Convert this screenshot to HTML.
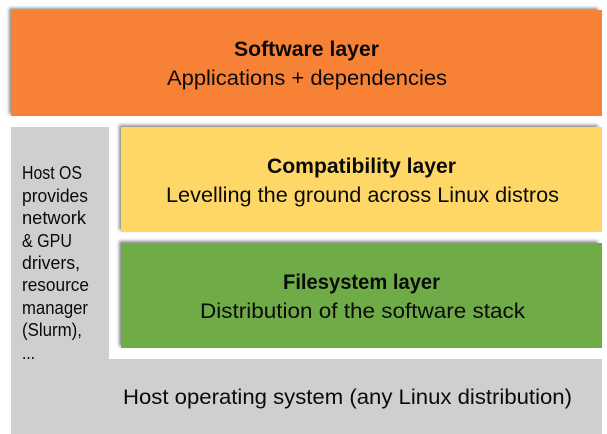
<!DOCTYPE html>
<html>
<head>
<meta charset="utf-8">
<style>
html,body{margin:0;padding:0;background:#fff}
body{position:relative;width:607px;height:434px;overflow:hidden}
.b{position:absolute}
.s{box-shadow:-2px -2px 3px rgba(0,0,0,.45)}
svg{position:absolute;left:0;top:0}
text{font-family:"Liberation Sans",sans-serif;fill:#0a0a0a}
.t{font-size:21.5px}
.h{font-size:21px;font-weight:bold}
.m{font-size:18px}
</style>
</head>
<body>
<div class="b s" style="left:11px;top:10px;width:589px;height:106px;background:#f78135"></div>
<div class="b" style="left:598px;top:10px;width:4px;height:106px;background:#f78135"></div>
<div class="b" style="left:11px;top:127px;width:98px;height:307px;background:#d0cece"></div>
<div class="b" style="left:11px;top:359px;width:591px;height:75px;background:#d0cece"></div>
<div class="b s" style="left:121px;top:127px;width:479px;height:105px;background:#ffd766"></div>
<div class="b" style="left:598px;top:127px;width:4px;height:105px;background:#ffd766"></div>
<div class="b s" style="left:121px;top:243px;width:479px;height:105px;background:#6fac47"></div>
<div class="b" style="left:598px;top:243px;width:4px;height:105px;background:#6fac47"></div>
<svg width="607" height="434" viewBox="0 0 607 434">
<text class="h" x="234" y="56" textLength="145" lengthAdjust="spacingAndGlyphs">Software layer</text>
<text class="t" x="167" y="85" textLength="280" lengthAdjust="spacingAndGlyphs">Applications + dependencies</text>
<text class="h" x="267" y="173" textLength="189" lengthAdjust="spacingAndGlyphs">Compatibility layer</text>
<text class="t" x="166" y="202" textLength="393" lengthAdjust="spacingAndGlyphs">Levelling the ground across Linux distros</text>
<text class="h" x="283" y="289" textLength="157" lengthAdjust="spacingAndGlyphs">Filesystem layer</text>
<text class="t" x="200" y="318" textLength="325" lengthAdjust="spacingAndGlyphs">Distribution of the software stack</text>
<text class="t" x="123" y="404" textLength="449" lengthAdjust="spacingAndGlyphs">Host operating system (any Linux distribution)</text>
<text class="m" x="22" y="179" textLength="60" lengthAdjust="spacingAndGlyphs">Host OS</text>
<text class="m" x="22" y="202" textLength="66" lengthAdjust="spacingAndGlyphs">provides</text>
<text class="m" x="22" y="224" textLength="64" lengthAdjust="spacingAndGlyphs">network</text>
<text class="m" x="22" y="247" textLength="50" lengthAdjust="spacingAndGlyphs">&amp; GPU</text>
<text class="m" x="22" y="269" textLength="58" lengthAdjust="spacingAndGlyphs">drivers,</text>
<text class="m" x="22" y="291" textLength="67" lengthAdjust="spacingAndGlyphs">resource</text>
<text class="m" x="22" y="314" textLength="66" lengthAdjust="spacingAndGlyphs">manager</text>
<text class="m" x="22" y="336" textLength="60" lengthAdjust="spacingAndGlyphs">(Slurm),</text>
<text class="m" x="22" y="359" textLength="13" lengthAdjust="spacingAndGlyphs">...</text>
</svg>
</body>
</html>
